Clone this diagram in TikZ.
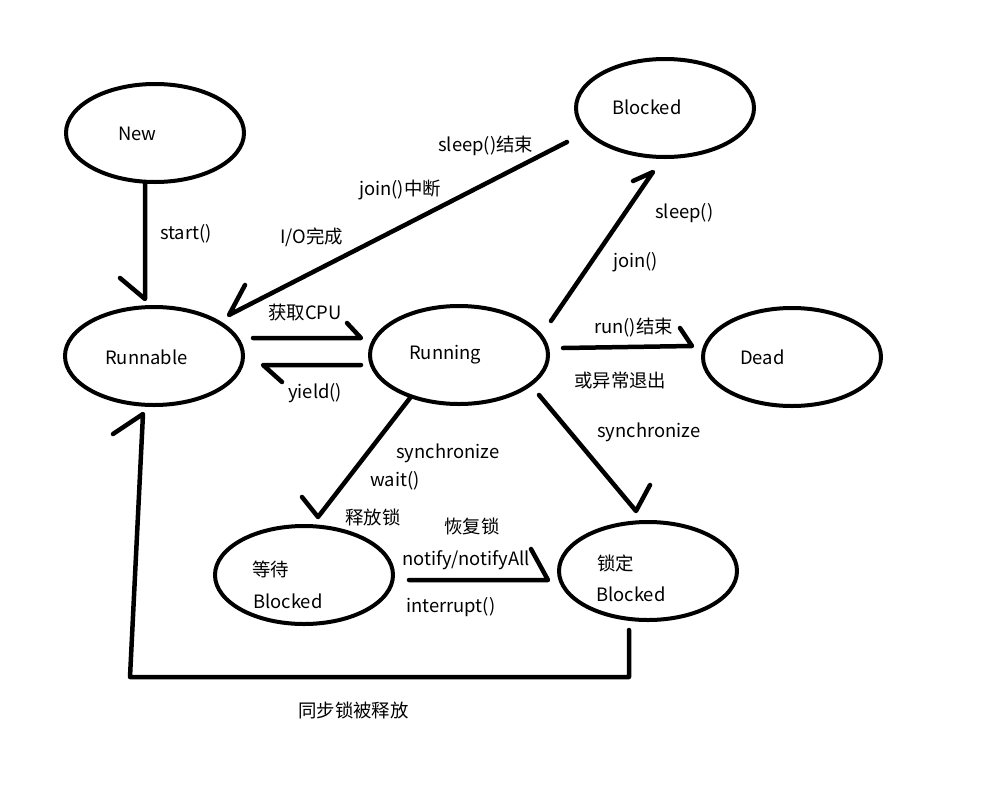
\documentclass[tikz,border=0pt]{standalone}
\usepackage{fontspec}
\setmainfont{Noto Sans CJK SC}
\usetikzlibrary{shapes.geometric}
\begin{document}
\begin{tikzpicture}[x=1pt,y=-1pt,
  state/.style={draw,ellipse,line width=4pt,minimum width=178pt,minimum height=98pt,inner sep=0pt},
  conn/.style={line width=4.5pt,line cap=round,line join=round},
  lbl/.style={anchor=west,inner sep=0pt,font=\fontsize{18.4}{21}\selectfont}]
\useasboundingbox (0,0) rectangle (1003,790);
\fill[white] (0,0) rectangle (1003,790);
% states
\node[state] (new) at (155,133) {};
\node[state] (blocked) at (665,108) {};
\node[state] (runnable) at (154,356) {};
\node[state] (running) at (459,355) {};
\node[state] (dead) at (792,357) {};
\node[state] (wait) at (304,575) {};
\node[state] (lock) at (648,571) {};
% state texts
\node[lbl] (tNew) at (118,134) {New};
\node[lbl] (tBlocked) at (612,107) {Blocked};
\node[lbl] (tRunnable) at (105,357) {Runnable};
\node[lbl] (tRunning) at (409,355) {Running};
\node[lbl] (tDead) at (740,357) {Dead};
\node[lbl] (tWait1) at (252,569) {等待};
\node[lbl] (tWait2) at (253,601) {Blocked};
\node[lbl] (tLock1) at (597,563) {锁定};
\node[lbl] (tLock2) at (596,594) {Blocked};
% connector coordinates
\coordinate (a1s) at (145,182); \coordinate (a1t) at (145,299); \coordinate (a1b) at (120,278);
\coordinate (a2s) at (567,142); \coordinate (a2t) at (229,315); \coordinate (a2b) at (245,285);
\coordinate (a3s) at (253,338); \coordinate (a3t) at (361,338); \coordinate (a3b) at (347,323);
\coordinate (a4s) at (361,365); \coordinate (a4t) at (263,365); \coordinate (a4b) at (282,382);
\coordinate (a5s) at (563,348); \coordinate (a5t) at (692,346); \coordinate (a5b) at (680,328);
\coordinate (a6s) at (551,321); \coordinate (a6t) at (653,172); \coordinate (a6b) at (633,181);
\coordinate (a7s) at (410,398); \coordinate (a7t) at (318,517); \coordinate (a7b) at (302,497);
\coordinate (a8s) at (539,395); \coordinate (a8t) at (636,511); \coordinate (a8b) at (650,485);
\coordinate (a9s) at (409,580); \coordinate (a9t) at (548,580); \coordinate (a9b) at (531,549);
\coordinate (a10s) at (629,630); \coordinate (a10c1) at (629,677); \coordinate (a10c2) at (130,677);
\coordinate (a10t) at (143,414); \coordinate (a10b) at (113,434);
% connectors
\draw[conn] (a1s) -- (a1t) -- (a1b);
\draw[conn] (a2s) -- (a2t) -- (a2b);
\draw[conn] (a3s) -- (a3t) -- (a3b);
\draw[conn] (a4s) -- (a4t) -- (a4b);
\draw[conn] (a5s) -- (a5t) -- (a5b);
\draw[conn] (a6s) -- (a6t) -- (a6b);
\draw[conn] (a7s) -- (a7t) -- (a7b);
\draw[conn] (a8s) -- (a8t) -- (a8b);
\draw[conn] (a9s) -- (a9t) -- (a9b);
\draw[conn] (a10s) -- (a10c1) -- (a10c2) -- (a10t) -- (a10b);
% labels
\node[lbl] (lStart) at (160,234) {start()};
\node[lbl] (lSleepEnd) at (438,146) {sleep()结束};
\node[lbl] (lJoinInt) at (359,190) {join()中断};
\node[lbl] (lIO) at (280,237) {I/O完成};
\node[lbl] (lSleep) at (655,213) {sleep()};
\node[lbl] (lJoin) at (613,262) {join()};
\node[lbl] (lCPU) at (268,313) {获取CPU};
\node[lbl] (lYield) at (288,393) {yield()};
\node[lbl] (lRunEnd) at (594,328) {run()结束};
\node[lbl] (lExc) at (574,381) {或异常退出};
\node[lbl] (lSync1) at (396,453) {synchronize};
\node[lbl] (lWaitf) at (370,481) {wait()};
\node[lbl] (lRelease) at (345,517) {释放锁};
\node[lbl] (lSync2) at (597,432) {synchronize};
\node[lbl] (lRestore) at (444,526) {恢复锁};
\node[lbl] (lNotify) at (402,560) {notify/notifyAll};
\node[lbl] (lInterrupt) at (406,607) {interrupt()};
\node[lbl] (lSyncRel) at (298,710) {同步锁被释放};
\end{tikzpicture}
\end{document}
